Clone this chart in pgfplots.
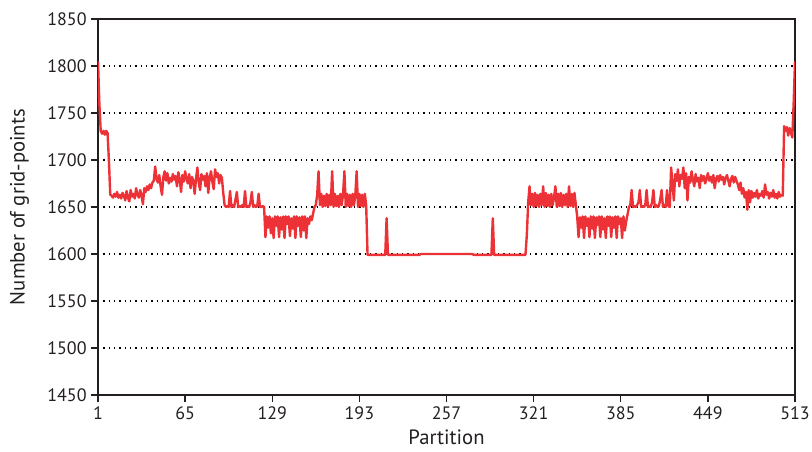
\documentclass[border=0pt]{standalone}
\usepackage{fontspec}
\setmainfont{PT Sans}
\usepackage{pgfplots}
\usepackage{pgfplotstable}
\pgfplotsset{compat=1.18}
\definecolor{linered}{RGB}{237,50,55}
\definecolor{axisgray}{RGB}{35,31,32}

% grid points per partition (partition = row index + 1)
\pgfplotstableread[row sep=\\]{
y\\
1805\\1760\\1731\\1728\\1731\\1727\\1731\\1729\\1700\\1663\\
1662\\1660\\1664\\1661\\1666\\1660\\1663\\1659\\1665\\1662\\1657\\1667\\1660\\1656\\1668\\1661\\1664\\1659\\1670\\1663\\1660\\1668\\1662\\1653\\1670\\
1666\\1672\\1668\\1674\\1670\\1676\\1678\\1693\\
1680\\1676\\1684\\1672\\1663\\1682\\1688\\1678\\1686\\1675\\
1681\\1677\\1685\\1679\\1683\\1672\\1687\\1680\\1666\\1684\\
1677\\1688\\1680\\1675\\1685\\1670\\1682\\1678\\1664\\1680\\
1692\\1676\\1668\\1685\\1679\\1683\\1672\\1686\\1665\\1681\\
1688\\1677\\1669\\1690\\1682\\1686\\1675\\1684\\1681\\1665\\
1652\\1650\\1651\\1650\\1667\\1650\\1652\\1650\\1658\\1666\\
1650\\1651\\1650\\1652\\1650\\1667\\1650\\1651\\1650\\1655\\
1666\\1650\\1652\\1650\\1651\\1664\\1650\\1650\\1651\\1650\\
1618\\1640\\1628\\1640\\1622\\1638\\1617\\1640\\1630\\1640\\
1618\\1639\\1626\\1640\\1617\\1640\\1632\\1640\\1619\\1638\\
1627\\1640\\1617\\1640\\1630\\1639\\1618\\1640\\1625\\1640\\
1617\\1638\\1632\\1640\\
1636\\1643\\1650\\1652\\
1663\\1688\\1652\\1664\\1650\\1662\\1651\\1664\\1650\\1663\\
1652\\1688\\1650\\1664\\1651\\1662\\1650\\1664\\1652\\1663\\
1688\\1650\\1664\\1651\\1663\\1650\\1664\\1652\\1662\\1688\\
1650\\1664\\1651\\1663\\1650\\1664\\1652\\
1599\\1599\\1599\\1599\\1599\\1599\\1599\\1599\\1599\\1599\\1599\\1599\\1599\\1599\\
1638\\
1599\\1599\\1599\\1599\\1599\\1599\\1599\\1599\\1599\\1599\\1599\\1599\\
1599\\1599\\1599\\1599\\1599\\1599\\1599\\1599\\1599\\1599\\1599\\1599\\
1600\\1600\\1600\\1600\\1600\\1600\\1600\\1600\\1600\\1600\\
1600\\1600\\1600\\1600\\1600\\1600\\1600\\1600\\1600\\1600\\
1600\\1600\\1600\\1600\\1600\\1600\\1600\\1600\\1600\\1600\\
1600\\1600\\1600\\1600\\1600\\1600\\1600\\1600\\1600\\
1599\\1599\\1599\\1599\\1599\\1599\\1599\\1599\\1599\\1599\\1599\\1599\\1599\\1599\\
1638\\
1599\\1599\\1599\\1599\\1599\\1599\\1599\\1599\\1599\\1599\\1599\\1599\\
1599\\1599\\1599\\1599\\1599\\1599\\1599\\1599\\1599\\1599\\1599\\1599\\
1620\\1655\\1672\\
1652\\1664\\1650\\1665\\1651\\1663\\1650\\1664\\1652\\1672\\
1650\\1665\\1651\\1663\\1650\\1664\\1652\\1660\\1672\\1650\\
1664\\1651\\1665\\1650\\1663\\1652\\1664\\1650\\1672\\1651\\
1664\\1650\\1665\\1652\\
1640\\1618\\1639\\1628\\1640\\1617\\1640\\1630\\1638\\1618\\
1640\\1627\\1640\\1617\\1639\\1631\\1640\\1618\\1640\\1626\\
1638\\1617\\1640\\1630\\1640\\1618\\1639\\1628\\1640\\1617\\
1640\\1632\\1638\\1617\\1640\\1625\\1635\\
1642\\1650\\
1652\\1668\\1650\\1651\\1650\\1652\\1655\\1668\\1650\\1651\\
1650\\1652\\1668\\1650\\1651\\1650\\1655\\1668\\1650\\1652\\
1650\\1651\\1658\\1668\\1650\\1652\\1650\\1668\\1651\\1650\\
1692\\1675\\1657\\1685\\1678\\1690\\1672\\1684\\1680\\1692\\
1670\\1686\\1657\\1682\\1676\\1688\\1679\\1672\\1685\\1677\\
1681\\1670\\1684\\1678\\1683\\1675\\1680\\1686\\1678\\1682\\
1676\\1684\\1670\\1680\\1683\\1677\\1684\\1679\\1682\\1674\\
1681\\1684\\1678\\1672\\1680\\1683\\1676\\1682\\1678\\1674\\
1668\\1676\\1664\\
1670\\1660\\1666\\1647\\1668\\1655\\1667\\1660\\1665\\1661\\
1668\\1659\\1664\\1662\\1667\\1660\\1674\\1663\\1666\\1659\\
1665\\1661\\1668\\1660\\1664\\1659\\1666\\1661\\1663\\1662\\
1736\\1731\\1735\\1726\\1734\\1729\\1724\\1760\\1805\\
}\griddata

\begin{document}
\begin{tikzpicture}
\begin{axis}[
  scale only axis, width=522.75pt, height=282pt,
  xmin=1, xmax=513, ymin=1450, ymax=1850,
  xtick={1,65,...,513}, ytick={1450,1500,...,1850},
  tick align=outside, xtick pos=bottom, ytick pos=left,
  major tick length=5pt,
  axis line style={axisgray, line width=1pt},
  every tick/.style={axisgray, line width=1pt},
  ymajorgrids,
  grid style={black, line width=1pt, dash pattern=on 1pt off 3pt},
  /pgf/number format/assume math mode=true,
  /pgf/number format/set thousands separator={},
  tick label style={font=\fontsize{13.5}{14}\selectfont, text=axisgray},
  label style={font=\fontsize{15.5}{16}\selectfont, text=axisgray},
  xlabel={Partition}, ylabel={Number of grid-points},
  xlabel shift=1pt, ylabel shift=7pt,
  clip=true,
]
\addplot[linered, line width=1.8pt, line join=round, no markers]
  table[x expr=\coordindex+1, y=y] {\griddata};
\end{axis}
\pgfresetboundingbox
\path ([shift={(-73.5pt,-42.75pt)}]current axis.south west)
  rectangle ([shift={(12.75pt,14.25pt)}]current axis.north east);
\end{tikzpicture}
\end{document}
